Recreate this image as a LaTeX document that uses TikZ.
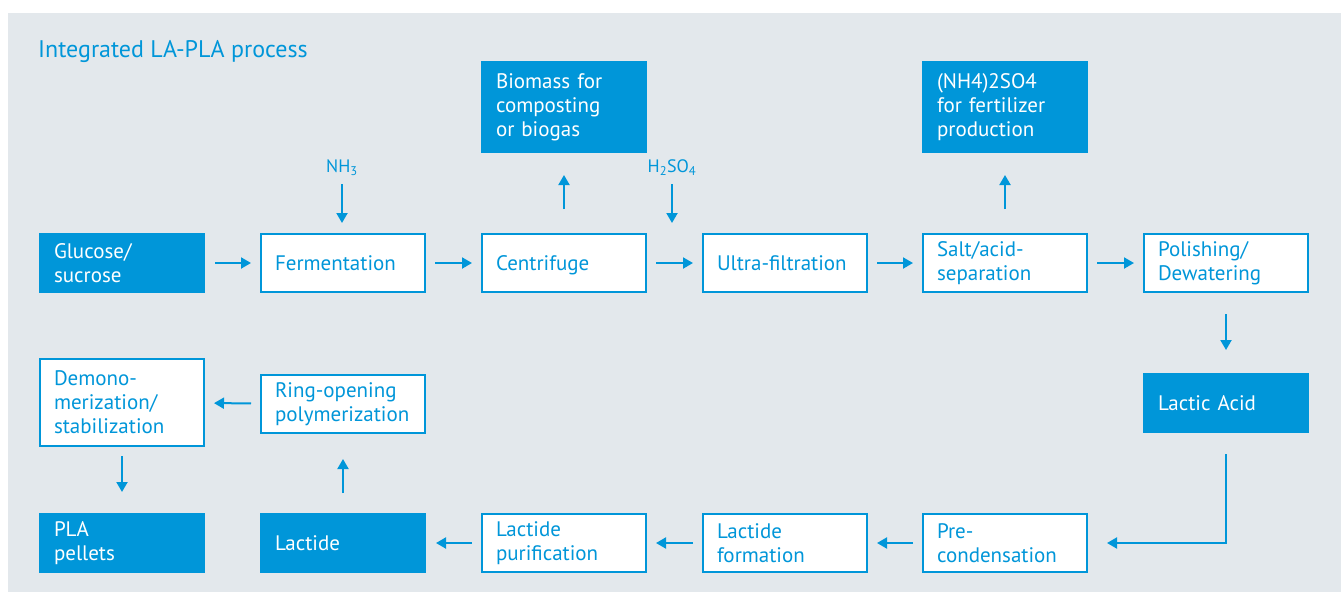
\documentclass[tikz,border=0pt]{standalone}
\usepackage{fontspec}
\setmainfont{PT Sans}
\usetikzlibrary{arrows.meta}
\definecolor{blu}{RGB}{0,150,217}
\definecolor{panel}{RGB}{227,232,236}
\begin{document}
\begin{tikzpicture}[x=1pt,y=-1pt,
  base/.style={anchor=north west, text width=136pt, align=left, inner sep=0pt, font=\fontsize{21}{24}\selectfont, line width=2pt},
  outbox/.style={base, minimum width=164pt, draw=blu, fill=white, text=blu},
  fillbox/.style={base, minimum width=166pt, fill=blu, text=white},
  arr/.style={draw=blu, line width=2pt, -{Triangle[length=10pt,width=11pt]}},
  lbl/.style={text=blu, inner sep=0pt, font=\fontsize{18}{20}\selectfont}
]
\useasboundingbox (0,0) rectangle (1341,592);
\fill[white] (0,0) rectangle (1341,592);
\fill[panel] (8,13) rectangle (1341,592);
\node[anchor=west, text=blu, inner sep=0pt, font=\fontsize{24}{28}\selectfont] (title) at (38,52) {Integrated LA-PLA process};
% top row
\node[fillbox, minimum height=92pt] (bio) at (480,60) {Biomass for\\composting\\or biogas};
\node[fillbox, minimum height=92pt] (nh4) at (921,60) {(NH4)2SO4\\for fertilizer\\production};
% second row
\node[fillbox, minimum height=60pt] (gluc) at (38,232) {Glucose/\\sucrose};
\node[outbox, minimum height=58pt] (ferm) at (260,233) {Fermentation};
\node[outbox, minimum height=58pt] (cent) at (481,233) {\raisebox{0pt}[\height][0pt]{Centrifuge}};
\node[outbox, minimum height=58pt] (ultra) at (702,233) {Ultra-filtration};
\node[outbox, minimum height=58pt] (salt) at (922,233) {Salt/acid-\\separation};
\node[outbox, minimum height=58pt] (pol) at (1143,233) {Polishing/\\Dewatering};
% middle
\node[fillbox, minimum height=60pt] (la) at (1142,372) {Lactic Acid};
\node[outbox, minimum height=87pt] (demo) at (39,358) {Demono-\\merization/\\stabilization};
\node[outbox, minimum height=58pt] (ring) at (260,374) {Ring-opening\\polymerization};
% bottom row
\node[fillbox, minimum height=60pt] (pla) at (38,512) {PLA\\pellets};
\node[fillbox, minimum height=60pt] (lact) at (259,512) {Lactide};
\node[outbox, minimum height=58pt] (purif) at (481,513) {Lactide\\purification};
\node[outbox, minimum height=58pt] (form) at (702,513) {Lactide\\formation};
\node[outbox, minimum height=58pt] (pre) at (922,513) {Pre-\\condensation};
% inputs
\node[lbl] (nh3) at (342,168) {NH\textsubscript{3}};
\node[lbl] (h2so4) at (672,168) {H\textsubscript{2}SO\textsubscript{4}};
% arrows
\foreach \a/\b in {gluc/ferm,ferm/cent,cent/ultra,ultra/salt,salt/pol,pre/form,form/purif,purif/lact,ring/demo}
  \draw[arr, shorten <=9pt, shorten >=9pt] (\a) -- (\b);
\draw[arr, shorten <=24pt, shorten >=21pt] (cent.north) -- (bio.south);
\draw[arr, shorten <=24pt, shorten >=21pt] (salt.north) -- (nh4.south);
\draw[arr, shorten <=8pt, shorten >=10pt] (nh3.south) -- (nh3.south |- ferm.north);
\draw[arr, shorten <=8pt, shorten >=10pt] (h2so4.south) -- (h2so4.south |- ultra.north);
\draw[arr, shorten <=21pt, shorten >=22pt] (pol.south) -- (la.north);
\draw[arr, shorten <=20pt, shorten >=19pt] (la.south) |- (pre.east);
\draw[arr, shorten <=19pt, shorten >=25pt] (lact.north) -- (ring.south);
\draw[arr, shorten <=9pt, shorten >=20pt] (demo.south) -- (pla.north);
\end{tikzpicture}
\end{document}
